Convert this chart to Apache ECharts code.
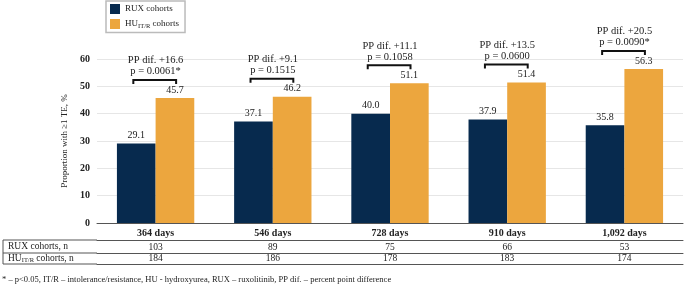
<!DOCTYPE html>
<html>
<head>
<meta charset="utf-8">
<script src="https://cdn.jsdelivr.net/npm/echarts@6/dist/echarts.min.js"></script>
<style>
  html, body { margin: 0; padding: 0; background: #fff; }
  #main { width: 685px; height: 286px; }
</style>
</head>
<body>
<div id="main"></div>
<script>
// data
var days = ['364 days', '546 days', '728 days', '910 days', '1,092 days'];
var ruxPct = [29.1, 37.1, 40.0, 37.9, 35.8];
var huPct = [45.7, 46.2, 51.1, 51.4, 56.3];
var ppDiff = ['+16.6', '+9.1', '+11.1', '+13.5', '+20.5'];
var pVals = ['0.0061*', '0.1515', '0.1058', '0.0600', '0.0090*'];
var ruxN = ['103', '89', '75', '66', '53'];
var huN = ['184', '186', '178', '183', '174'];
var yTicks = [0, 60, 10];

var serif = '"Liberation Serif", "DejaVu Serif", serif';
var lineCol = '#555';
var navy = '#072a4e', orange = '#eca63e';

var chart = echarts.init(document.getElementById('main'));

// bracket data: [category index, rux, hu]
var bracketData = days.map(function (d, i) { return [i, ruxPct[i], huPct[i]]; });

chart.setOption({
  animation: false,
  textStyle: { fontFamily: serif },
  grid: { left: 97, right: 2, top: 59, bottom: 63 },
  title: {
    text: '* – p<0.05, IT/R – intolerance/resistance, HU - hydroxyurea, RUX – ruxolitinib, PP dif. – percent point difference',
    left: 2, top: 275, padding: 0,
    textStyle: { fontFamily: serif, fontSize: 8.5, fontWeight: 'normal', color: '#222' }
  },
  legend: {
    data: ['RUX cohorts', 'HU IT/R cohorts'],
    orient: 'vertical',
    left: 106, top: 1,
    itemWidth: 10, itemHeight: 10, itemGap: 5,
    padding: [3, 6, 3, 4],
    borderColor: '#bbb', borderWidth: 1.5,
    icon: 'rect',
    formatter: function (name) {
      return name === 'HU IT/R cohorts' ? '{a|HU}{s|IT/R}{a| cohorts}' : '{a|' + name + '}';
    },
    textStyle: {
      fontFamily: serif, color: '#222',
      rich: {
        a: { fontFamily: serif, fontSize: 9, color: '#222' },
        s: { fontFamily: serif, fontSize: 6.5, color: '#222', padding: [4, 0, 0, 0] }
      }
    }
  },
  graphic: [
    { type: 'polyline', shape: { points: [[97, 240], [3, 240], [3, 264], [97, 264]] }, style: { stroke: lineCol, lineWidth: 1, fill: null } },
    { type: 'line', shape: { x1: 3, y1: 253, x2: 97, y2: 253 }, style: { stroke: lineCol, lineWidth: 1 } }
  ],
  xAxis: [
    {
      type: 'category', data: days, position: 'bottom',
      axisLine: { lineStyle: { color: lineCol, width: 1 } },
      axisTick: { length: 41, lineStyle: { color: lineCol } },
      axisLabel: { fontFamily: serif, fontSize: 10, fontWeight: 'bold', color: '#222', margin: 5 }
    },
    {
      type: 'category', data: ruxN, position: 'bottom', offset: 17,
      axisLine: { lineStyle: { color: lineCol, width: 1 } },
      axisTick: { show: false },
      axisLabel: { fontFamily: serif, fontSize: 9.5, color: '#222', margin: 2 },
      name: 'RUX cohorts, n', nameLocation: 'start', nameGap: 89,
      nameTextStyle: { fontFamily: serif, fontSize: 9.5, color: '#222', align: 'left', verticalAlign: 'top', padding: [1, 0, 0, 0] }
    },
    {
      type: 'category', data: huN, position: 'bottom', offset: 30,
      axisLine: { lineStyle: { color: lineCol, width: 1 } },
      axisTick: { show: false },
      axisLabel: { fontFamily: serif, fontSize: 9.5, color: '#222', margin: 0 },
      name: '{a|HU}{s|IT/R}{a| cohorts, n}', nameLocation: 'start', nameGap: 89,
      nameTextStyle: {
        fontFamily: serif, fontSize: 9.5, color: '#222', align: 'left', verticalAlign: 'top', padding: [0, 0, 0, 0],
        rich: {
          a: { fontFamily: serif, fontSize: 9.5, color: '#222' },
          s: { fontFamily: serif, fontSize: 6.5, color: '#222', padding: [4, 0, 0, 0] }
        }
      }
    },
    {
      type: 'category', data: days, position: 'bottom', offset: 41,
      axisLine: { lineStyle: { color: lineCol, width: 1 } },
      axisTick: { show: false },
      axisLabel: { show: false }
    }
  ],
  yAxis: {
    type: 'value', min: yTicks[0], max: yTicks[1], interval: yTicks[2],
    name: 'Proportion with ≥1 TE, %', nameLocation: 'middle', nameGap: 20,
    nameTextStyle: { fontFamily: serif, fontSize: 9, color: '#222' },
    axisLine: { show: false }, axisTick: { show: false },
    axisLabel: { fontFamily: serif, fontSize: 10, fontWeight: 'bold', color: '#222', margin: 7 },
    splitLine: { lineStyle: { color: '#e6e6e6', width: 1 } }
  },
  series: [
    {
      name: 'RUX cohorts', type: 'bar', data: ruxPct, barWidth: '33%', barGap: '0%',
      itemStyle: { color: navy },
      label: { show: true, position: 'top', distance: 3, fontFamily: serif, fontSize: 10, color: '#222',
        formatter: function (p) { return p.value.toFixed(1); } }
    },
    {
      name: 'HU IT/R cohorts', type: 'bar', data: huPct, barWidth: '33%', barGap: '0%',
      itemStyle: { color: orange },
      label: { show: true, position: 'top', distance: 3, fontFamily: serif, fontSize: 10, color: '#222',
        formatter: function (p) { return p.value.toFixed(1); } }
    },
    {
      type: 'custom', data: bracketData, clip: false, z: 10,
      encode: { x: 0, y: [1, 2] },
      renderItem: function (params, api) {
        var i = params.dataIndex;
        var top = Math.max(api.value(1), api.value(2));
        var c = api.coord([api.value(0), top]);
        var bw = api.size([1, 0])[0];
        var y = c[1] - 18;
        var x1 = c[0] - 0.19 * bw, x2 = c[0] + 0.175 * bw;
        return {
          type: 'group',
          children: [
            { type: 'polyline', shape: { points: [[x1, y + 4], [x1, y], [x2, y], [x2, y + 4]] },
              style: { stroke: '#111', lineWidth: 2, fill: null } },
            { type: 'text', x: c[0], y: y - 3,
              style: { text: 'PP dif. ' + ppDiff[i] + '\np = ' + pVals[i], align: 'center', verticalAlign: 'bottom',
                lineHeight: 11, font: '10.5px ' + serif, fill: '#222' } }
          ]
        };
      }
    }
  ]
});
</script>
</body>
</html>
